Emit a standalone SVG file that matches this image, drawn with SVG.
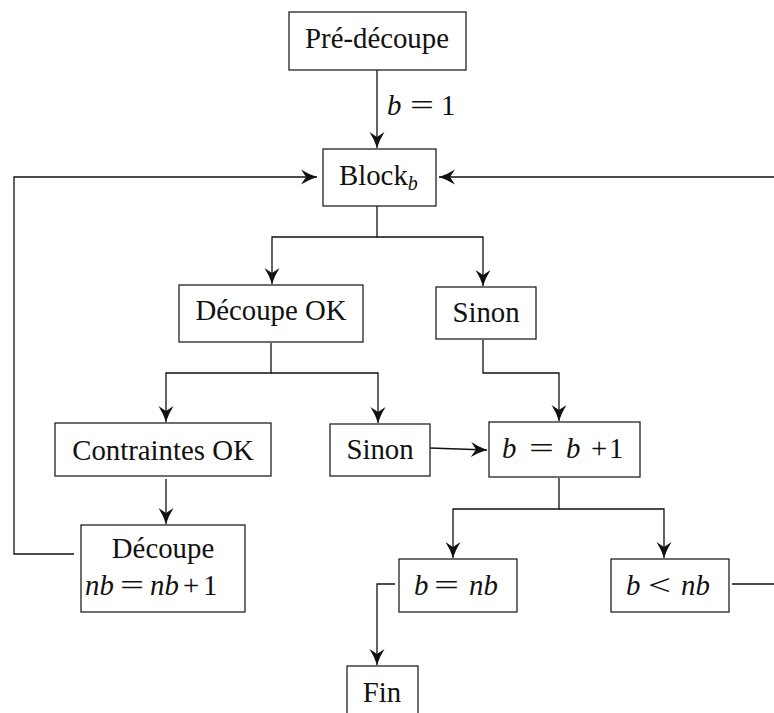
<svg xmlns="http://www.w3.org/2000/svg" width="774" height="713" viewBox="0 0 774 713">
<style>
.box{fill:#fff;stroke:#222;stroke-width:1.3}
.ln{fill:none;stroke:#111;stroke-width:1.3;marker-end:url(#ah)}
text{font-family:"Liberation Serif","Times New Roman",serif;font-size:28.8px;fill:#111}
.c{text-anchor:middle}
.i{font-style:italic}
</style>
<defs>
<marker id="ah" viewBox="-18 -9 19 18" refX="0" refY="0" markerWidth="19" markerHeight="18" markerUnits="userSpaceOnUse" orient="auto">
<path d="M0,0 Q-9,-3 -16,-7.5 L-11,0 L-16,7.5 Q-9,3 0,0 Z" fill="#111"/>
</marker>
</defs>
<g id="connectors">
<path class="ln" d="M377,70 V148"/>
<path class="ln" d="M377,206 V237 H272 V284"/>
<path class="ln" d="M377,237 H483 V286"/>
<path class="ln" d="M271,343 V373 H166 V422"/>
<path class="ln" d="M271,373 H378 V423"/>
<path class="ln" d="M483,340 V373 H559 V421"/>
<path class="ln" d="M166,479 V524"/>
<path class="ln" d="M74,554 H14 V177 H317"/>
<path class="ln" d="M430,448 L487,450"/>
<path class="ln" d="M559,478 V509 H453 V558"/>
<path class="ln" d="M559,509 H664 V558"/>
<path class="ln" d="M732,584 H778 V177 H439"/>
<path class="ln" d="M395,584 H377 V665"/>
<text class="i" x="387" y="115">b</text><text x="410" y="115" textLength="24" lengthAdjust="spacingAndGlyphs">=</text><text x="441" y="115">1</text>
</g>
<g id="pre"><rect class="box" x="289" y="12" width="177" height="58"/><text class="c" x="377" y="48">Pré-découpe</text></g>
<g id="block"><rect class="box" x="323" y="149" width="113" height="57"/><text x="339" y="185">Block<tspan class="i" font-size="20" dy="5">b</tspan></text></g>
<g id="decoupeok"><rect class="box" x="179" y="285" width="184" height="57"/><text class="c" x="271" y="320">Découpe OK</text></g>
<g id="sinon1"><rect class="box" x="436" y="287" width="100" height="52"/><text class="c" x="486" y="322">Sinon</text></g>
<g id="contraintes"><rect class="box" x="55" y="423" width="216" height="53"/><text class="c" x="163" y="460">Contraintes OK</text></g>
<g id="sinon2"><rect class="box" x="330" y="424" width="100" height="52"/><text class="c" x="380" y="459">Sinon</text></g>
<g id="incr"><rect class="box" x="489" y="422" width="151" height="55"/><text class="i" x="502" y="458">b</text><text x="529" y="458" textLength="25" lengthAdjust="spacingAndGlyphs">=</text><text y="458"><tspan class="i" x="566">b</tspan><tspan x="591">+</tspan><tspan x="609">1</tspan></text></g>
<g id="decoupe"><rect class="box" x="81" y="525" width="164" height="87"/><text class="c" x="163" y="558">Découpe</text><text class="i" x="85" y="595">nb</text><text x="120" y="595" textLength="24" lengthAdjust="spacingAndGlyphs">=</text><text y="595"><tspan class="i" x="150">nb</tspan><tspan x="183">+</tspan><tspan x="203">1</tspan></text></g>
<g id="eq"><rect class="box" x="399" y="559" width="118" height="53"/><text class="i" x="414" y="595">b</text><text x="434" y="595" textLength="25" lengthAdjust="spacingAndGlyphs">=</text><text class="i" x="469" y="595">nb</text></g>
<g id="lt"><rect class="box" x="611" y="559" width="118" height="53"/><text class="i" x="626" y="595">b</text><text x="648" y="595" textLength="23" lengthAdjust="spacingAndGlyphs">&lt;</text><text class="i" x="681" y="595">nb</text></g>
<g id="fin"><rect class="box" x="347" y="666" width="71" height="60"/><text class="c" x="382" y="702">Fin</text></g>
</svg>
